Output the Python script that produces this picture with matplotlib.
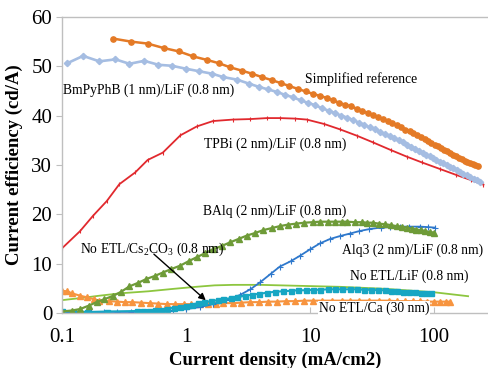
import matplotlib
matplotlib.use("Agg")
import matplotlib.pyplot as plt

plt.rcParams['font.family'] = ['Liberation Serif', 'DejaVu Serif']
plt.rcParams['mathtext.fontset'] = 'custom'
plt.rcParams['mathtext.rm'] = 'Liberation Serif'

# Simplified reference
ref_x = [0.26, 0.36, 0.49, 0.66, 0.88, 1.14, 1.47, 1.85, 2.26, 2.83, 3.4, 4.1, 4.9, 5.8, 6.8, 8.0,
         9.2, 10.6, 12.0, 13.6, 15.3, 17.2, 19.2, 21.4, 23.8, 26.4, 29.2, 32.2, 35.4, 38.8, 42.4,
         46.2, 50.2, 54.4, 58.8, 63.4, 68.2, 73.2, 78.4, 83.8, 89.4, 95.2, 101, 107, 114, 121, 128,
         135, 143, 151, 159, 167, 176, 185, 194, 204, 214, 225]
ref_y = [55.6, 55.0, 54.6, 53.7, 53.0, 52.0, 51.3, 50.6, 49.8, 49.1, 48.5, 47.8, 47.2, 46.6, 46.0, 45.4,
         44.9, 44.4, 44.0, 43.6, 43.1, 42.6, 42.2, 41.9, 41.4, 41.0, 40.5, 40.1, 39.7, 39.3, 38.9,
         38.5, 38.1, 37.6, 37.1, 36.8, 36.4, 36.0, 35.6, 35.2, 34.8, 34.4, 34.1, 33.9, 33.5, 33.1, 32.8,
         32.4, 32.1, 31.8, 31.5, 31.2, 30.9, 30.6, 30.4, 30.1, 30.0, 29.8]

# BmPyPhB (1 nm)/LiF (0.8 nm)
bm_x = [0.11, 0.148, 0.2, 0.27, 0.35, 0.46, 0.6, 0.77, 1.0, 1.27, 1.62, 2.0, 2.57, 3.2, 3.9, 4.6,
        5.4, 6.3, 7.3, 8.4, 9.6, 11.0, 12.5, 14.1, 15.9, 17.8, 19.9, 22.2, 24.7, 27.4, 30.3, 33.4,
        36.7, 40.2, 43.9, 47.8, 51.9, 56.2, 60.7, 65.4, 70.3, 75.4, 80.7, 86.2, 91.9, 97.8, 104,
        111, 118, 126, 134, 143, 152, 162, 172, 183, 195, 208, 221, 235]
bm_y = [50.6, 52.1, 51.0, 51.4, 50.5, 51.1, 50.3, 50.1, 49.5, 49.0, 48.5, 47.8, 47.3, 46.5, 45.8, 45.3,
        44.8, 44.2, 43.7, 43.1, 42.6, 42.1, 41.5, 41.0, 40.5, 40.0, 39.6, 39.1, 38.6, 38.1, 37.6, 37.2,
        36.7, 36.2, 35.8, 35.4, 35.0, 34.6, 34.1, 33.7, 33.3, 32.9, 32.5, 32.1, 31.8, 31.4, 31.1,
        30.7, 30.4, 30.0, 29.6, 29.3, 28.9, 28.6, 28.2, 27.9, 27.5, 27.2, 26.9, 26.6]

# TPBi (2 nm)/LiF (0.8 nm)
tp_x = [0.1, 0.14, 0.178, 0.23, 0.29, 0.39, 0.49, 0.65, 0.9, 1.22, 1.65, 2.4, 3.3, 4.5, 5.7, 7.5,
        9.4, 13, 17.5, 24, 32, 45, 60, 80, 111, 150, 200, 250]
tp_y = [13.1, 16.6, 19.7, 22.7, 26.1, 28.5, 31.0, 32.5, 36.0, 37.8, 38.9, 39.2, 39.3, 39.5, 39.5, 39.4,
        39.2, 38.3, 37.2, 35.9, 34.6, 33.0, 31.7, 30.5, 29.2, 28.0, 26.9, 26.0]

# BAlq (2 nm)/LiF (0.8 nm)
ba_x = [0.1, 0.12, 0.14, 0.165, 0.19, 0.22, 0.26, 0.3, 0.35, 0.41, 0.48, 0.56, 0.65, 0.76, 0.9, 1.05,
        1.22, 1.42, 1.65, 1.95, 2.26, 2.65, 3.1, 3.6, 4.2, 4.9, 5.7, 6.6, 7.7, 9.0, 10.5, 12, 14, 16,
        18, 20, 23, 26, 29, 32, 36, 40, 45, 50, 55, 60, 66, 72, 78, 85, 92, 100]
ba_y = [0.3, 0.5, 0.8, 1.5, 2.2, 2.8, 3.5, 4.3, 5.4, 6.1, 6.9, 7.5, 8.2, 8.9, 9.6, 10.5,
        11.3, 12.1, 12.9, 13.6, 14.3, 15.0, 15.7, 16.2, 16.8, 17.2, 17.6, 17.9, 18.1, 18.3, 18.4, 18.5,
        18.5, 18.5, 18.5, 18.5, 18.4, 18.4, 18.3, 18.3, 18.1, 18.0, 17.8, 17.6, 17.5, 17.3, 17.1, 16.9,
        16.8, 16.6, 16.4, 16.3]

# Alq3 (2 nm)/LiF (0.8 nm)
aq_x = [0.1, 0.13, 0.17, 0.22, 0.28, 0.36, 0.46, 0.6, 0.78, 1.0, 1.3, 1.65, 2.1, 2.7, 3.3, 3.95,
        4.8, 5.7, 7.0, 8.3, 10, 12, 14.5, 17.5, 21, 25, 30, 37, 44, 53, 63, 77, 90, 102]
aq_y = [0.1, 0.1, 0.1, 0.2, 0.2, 0.2, 0.3, 0.4, 0.5, 0.8, 1.2, 1.8, 2.6, 3.6, 4.8, 6.2,
        7.9, 9.4, 10.5, 11.6, 12.9, 14.1, 15.0, 15.6, 16.1, 16.6, 17.0, 17.3, 17.4, 17.5, 17.5, 17.5,
        17.4, 17.3]

# No ETL/Cs2CO3 (0.8 nm)
cs_x = [0.1, 0.16, 0.23, 0.4, 0.45, 0.5, 0.56, 0.63, 0.7, 0.8, 0.9, 1.0, 1.12, 1.25, 1.4, 1.6, 1.8,
        2.0, 2.3, 2.6, 3.0, 3.4, 3.9, 4.5, 5.2, 6.0, 7.0, 8.0, 9.2, 10.5, 12, 14, 16, 18, 21, 24,
        27, 31, 35, 40, 45, 50, 56, 63, 70, 78, 86, 95]
cs_y = [0.4, 0.2, 0.3, 0.4, 0.5, 0.5, 0.6, 0.7, 0.9, 1.1, 1.3, 1.5, 1.7, 2.0, 2.2, 2.4, 2.6,
        2.8, 3.0, 3.2, 3.5, 3.7, 3.9, 4.1, 4.3, 4.4, 4.5, 4.6, 4.6, 4.7, 4.7, 4.8, 4.8, 4.8, 4.8, 4.8,
        4.7, 4.7, 4.6, 4.6, 4.5, 4.4, 4.3, 4.3, 4.2, 4.1, 4.1, 4.0]

# No ETL/LiF (0.8 nm)
lf_x = [0.1, 0.15, 0.2, 0.3, 0.5, 0.8, 1.2, 1.7, 2.4, 4.0, 8.3, 17.5, 40, 100, 188]
lf_y = [2.6, 3.1, 3.5, 4.0, 4.4, 4.9, 5.3, 5.6, 5.7, 5.7, 5.5, 5.3, 4.9, 4.2, 3.4]

# No ETL/Ca (30 nm)
ca_x = [0.1, 0.11, 0.12, 0.14, 0.158, 0.18, 0.2, 0.24, 0.28, 0.32, 0.37, 0.43, 0.51, 0.6, 0.7, 0.82,
        0.96, 1.1, 1.3, 1.5, 1.75, 2.0, 2.4, 2.8, 3.3, 3.9, 4.6, 5.4, 6.4, 7.6, 9.0, 10.5, 12.5, 15,
        18, 21, 25, 30, 36, 43, 50, 58, 67, 77, 88, 100, 112, 125, 135]
ca_y = [4.5, 4.4, 4.0, 3.5, 3.2, 2.8, 2.5, 2.4, 2.3, 2.2, 2.2, 2.1, 2.0, 1.9, 1.8, 1.8,
        1.8, 1.8, 1.8, 1.9, 1.9, 2.0, 2.0, 2.1, 2.2, 2.2, 2.3, 2.3, 2.4, 2.4, 2.5, 2.5, 2.5, 2.5,
        2.5, 2.5, 2.5, 2.5, 2.5, 2.5, 2.4, 2.4, 2.4, 2.4, 2.3, 2.3, 2.3, 2.3, 2.3]

fig = plt.figure(figsize=(4.88, 3.68), dpi=100)
ax = fig.add_axes([0.127, 0.1495, 0.873, 0.8045])

ax.plot(lf_x, lf_y, color='#8DC63F', lw=1.3)
ax.plot(ca_x, ca_y, color='#F7943F', lw=1.5, marker='^', ms=4, mec='#F7943F')
ax.plot(aq_x, aq_y, color='#2E78CC', lw=1.3, marker='+', ms=4, mew=0.8)
ax.plot(cs_x, cs_y, color='#17A6C3', lw=1.5, marker='s', ms=3.6, mec='#17A6C3')
ax.plot(ba_x, ba_y, color='#6E9B38', lw=1.6, marker='^', ms=4, mec='#6E9B38')
ax.plot(tp_x, tp_y, color='#E1292E', lw=1.3, marker='|', ms=3, mew=0.8)
ax.plot(bm_x, bm_y, color='#A5BDE2', lw=1.9, marker='D', ms=3.2, mec='#A5BDE2')
ax.plot(ref_x, ref_y, color='#E47A26', lw=1.8, marker='o', ms=3.8, mec='#E47A26')

ax.set_xscale('log')
ax.set_xlim(0.1, 272)
ax.set_ylim(0, 60)
ax.set_xticks([0.1, 1, 10, 100])
ax.set_xticklabels(['0.1', '1', '10', '100'])
ax.minorticks_off()
ax.set_yticks(range(0, 61, 10))

for side in ['left', 'bottom', 'top']:
    ax.spines[side].set_color('#BFBFBF')
    ax.spines[side].set_linewidth(1.0)
ax.spines['right'].set_visible(False)
ax.tick_params(axis='y', direction='out', length=4, color='#BFBFBF', labelsize=15, pad=3)
ax.tick_params(axis='x', direction='in', length=4, color='#BFBFBF', labelsize=15, pad=11)

ax.set_xlabel('Current density (mA/cm2)', fontsize=13.5, fontweight='bold', labelpad=3)
ax.set_ylabel('Current efficiency (cd/A)', fontsize=13.5, fontweight='bold', labelpad=6)

fs = 9.8
ax.text(0.102, 45.1, 'BmPyPhB (1 nm)/LiF (0.8 nm)', fontsize=fs, va='center')
ax.text(9.1, 47.4, 'Simplified reference', fontsize=fs, va='center')
ax.text(1.40, 34.1, 'TPBi (2 nm)/LiF (0.8 nm)', fontsize=fs, va='center')
ax.text(1.37, 20.7, 'BAlq (2 nm)/LiF (0.8 nm)', fontsize=fs, va='center')
ax.text(0.14, 12.9, 'No ETL/Cs$_2$CO$_3$ (0.8 nm)', fontsize=fs, va='center')
ax.text(18.1, 12.7, 'Alq3 (2 nm)/LiF (0.8 nm)', fontsize=fs, va='center')
ax.text(21.0, 7.5, 'No ETL/LiF (0.8 nm)', fontsize=fs, va='center')
ax.text(11.8, 1.0, 'No ETL/Ca (30 nm)', fontsize=fs, va='center', zorder=5,
        bbox=dict(facecolor='white', edgecolor='none', pad=0.5), clip_on=False)
ax.annotate('', xy=(1.5, 2.2), xytext=(0.53, 12.3),
            arrowprops=dict(arrowstyle='-|>', color='black', lw=1.0, mutation_scale=10))

fig.savefig('out.png', dpi=100)
